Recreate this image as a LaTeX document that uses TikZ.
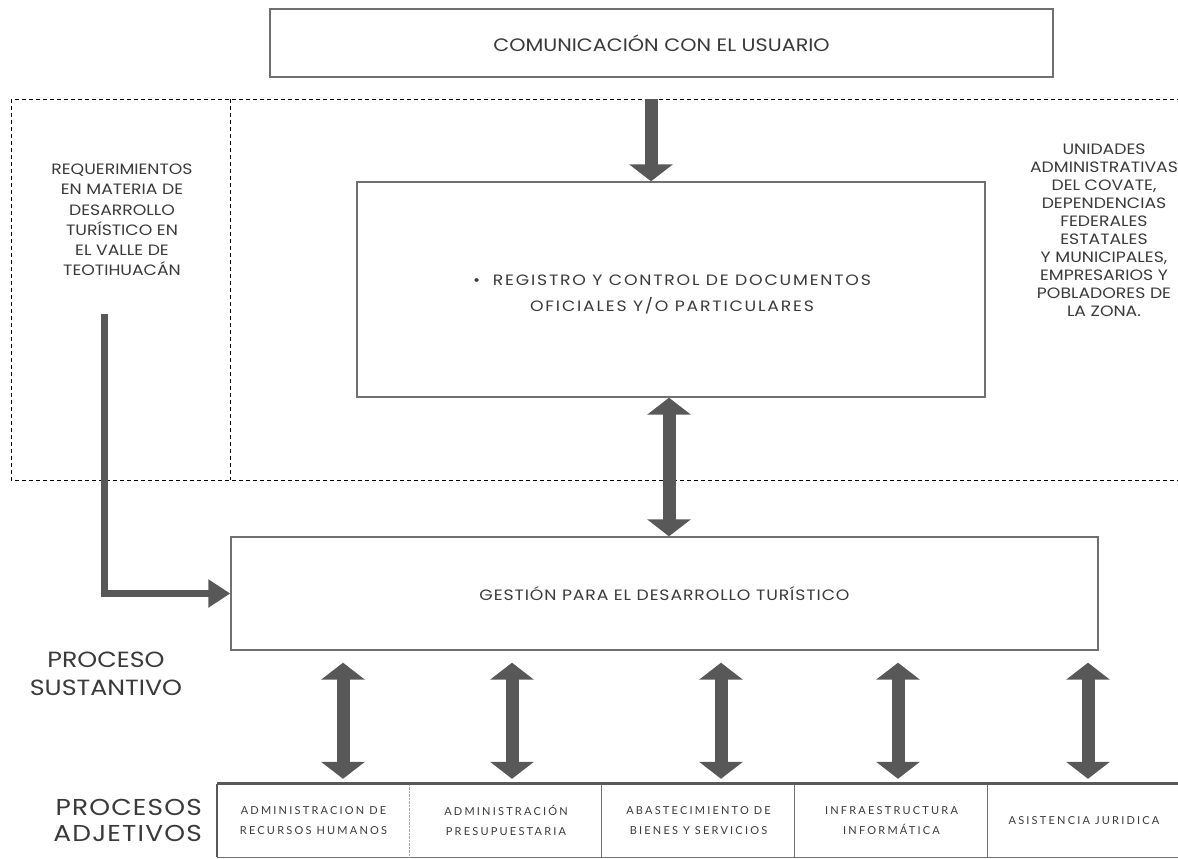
\documentclass[tikz,border=0pt]{standalone}
\usepackage{fontspec}
\setmainfont{Poppins}[FakeStretch=1.15]
\newfontfamily\cellfont{Lato}[LetterSpace=20]
\usepackage{xcolor}
\usepackage{tikz}
\usetikzlibrary{positioning,calc,arrows.meta}
\definecolor{txtgray}{HTML}{3A3A3A}
\definecolor{linegray}{HTML}{707070}
\definecolor{arrowgray}{HTML}{585858}

\begin{document}
\begin{tikzpicture}[x=1pt,y=-1pt,
    box/.style={draw=linegray, line width=1.4pt, rectangle, inner sep=0pt, text=txtgray},
    lbl/.style={text=txtgray, align=center, inner sep=0pt},
    cell/.style={text=txtgray, align=center, inner sep=0pt, minimum width=193pt, minimum height=73pt, font=\cellfont\fontsize{11}{20}\selectfont},
    dashline/.style={draw=black, line width=0.8pt, dash pattern=on 4pt off 3pt},
    bigarrow/.style={draw=arrowgray, line width=13pt, -{Triangle[length=17pt 0 0, width=43pt 0 0]}},
    dblarrow/.style={draw=arrowgray, line width=13pt, {Triangle[length=17pt 0 0, width=43pt 0 0]}-{Triangle[length=17pt 0 0, width=43pt 0 0]}},
    thinarrow/.style={draw=arrowgray, line width=7pt, -{Triangle[length=22pt 0 0, width=27pt 0 0]}}]
    \useasboundingbox (0,0) rectangle (1178,859);
    \fill[white] (0,0) rectangle (1178,859);

    % Entorno
    \draw[dashline] (11,99) rectangle (1195,480);
    \draw[dashline] (230,99) -- (230,480);

    % Cajas principales
    \node[box, minimum width=783pt, minimum height=68pt, font=\fontsize{18}{21}\selectfont] (usuario) at (661.5,43) {COMUNICACIÓN CON EL USUARIO};
    \node[box, minimum width=628pt, minimum height=215pt] (registro) at (671,289.5) {};
    \node[lbl, font=\fontsize{15}{26}\selectfont\addfontfeature{LetterSpace=12}] (registrotxt) at (672,294) {•\ \ REGISTRO Y CONTROL DE DOCUMENTOS\\OFICIALES Y/O PARTICULARES};
    \node[box, minimum width=867pt, minimum height=113pt, font=\fontsize{15}{18}\selectfont\addfontfeature{LetterSpace=6}] (gestion) at (664.5,593.5) {GESTIÓN PARA EL DESARROLLO TURÍSTICO};

    % Textos laterales
    \node[lbl, font=\fontsize{15}{20.3}\selectfont] (req) at (122,220) {REQUERIMIENTOS\\EN MATERIA DE\\DESARROLLO\\TURÍSTICO EN\\EL VALLE DE\\TEOTIHUACÁN};
    \node[lbl, font=\fontsize{15}{18}\selectfont] (unidades) at (1104,230) {UNIDADES\\ADMINISTRATIVAS\\DEL COVATE,\\DEPENDENCIAS\\FEDERALES\\ESTATALES\\Y MUNICIPALES,\\EMPRESARIOS Y\\POBLADORES DE\\LA ZONA.};
    \node[lbl, font=\fontsize{22}{28}\selectfont] (sustantivo) at (106,674) {PROCESO\\SUSTANTIVO};
    \node[lbl, align=right, anchor=east, font=\fontsize{23}{26}\selectfont\addfontfeature{LetterSpace=5}] (adjetivos) at (202,820) {PROCESOS\\ADJETIVOS};

    % Procesos adjetivos
    \foreach \i/\x/\txt in {1/313.5/{ADMINISTRACION DE\\RECURSOS HUMANOS},
                            2/506/{ADMINISTRACIÓN\\PRESUPUESTARIA},
                            3/698.5/{ABASTECIMIENTO DE\\BIENES Y SERVICIOS},
                            4/891.5/{INFRAESTRUCTURA\\INFORMÁTICA},
                            5/1084/{ASISTENCIA JURIDICA}}
        \node[cell] (cell\i) at (\x,820.5) {\txt};
    \draw[linegray, line width=1pt] (cell1.south west) -- (cell5.south east);
    \draw[linegray!60, densely dotted] (cell2.north west) -- (cell2.south west);
    \foreach \i in {3,4,5}
        \draw[linegray, line width=1pt] (cell\i.north west) -- (cell\i.south west);
    \draw[arrowgray, line width=2pt] (cell1.north west) -- (cell1.south west);
    \draw[arrowgray, line width=3pt] (cell1.north west) -- (cell5.north east);

    % Flechas
    \coordinate (topin) at (651,99);
    \draw[bigarrow] (topin) -- (topin |- registro.north);
    \draw[dblarrow] ([xshift=-2pt]registro.south) -- ([xshift=-2pt]registro.south |- gestion.north);
    \coordinate (reqstart) at (104,314);
    \draw[thinarrow] (reqstart) |- (gestion.west);
    \foreach \i/\dx in {1/29.5, 2/6, 3/22.5, 4/6.5, 5/4}
        \draw[dblarrow, shorten <=5pt, shorten >=12pt] ([xshift=\dx pt]cell\i.north) -- ([xshift=\dx pt]cell\i.north |- gestion.south);
\end{tikzpicture}
\end{document}
